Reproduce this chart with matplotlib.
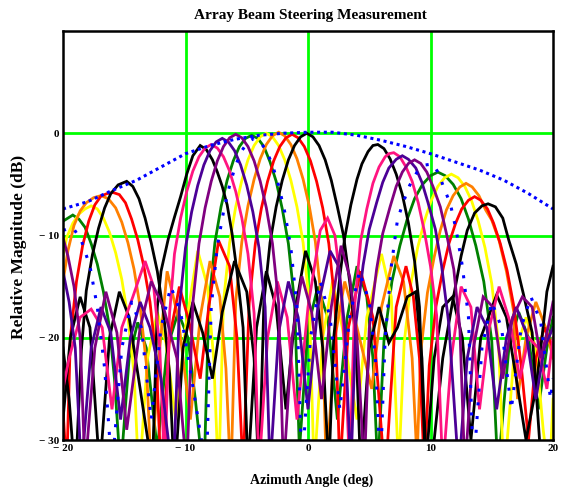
import matplotlib
matplotlib.use("Agg")
import matplotlib.pyplot as plt

# ---------------- data ----------------
X_TICKS = [-20, -10, 0, 10, 20]
X_TICK_LABELS = ["\u2212 20", "\u2212 10", "0", "10", "20"]
Y_TICKS = [-30, -20, -10, 0]
Y_TICK_LABELS = ["\u2212 30", "\u2212 20", "\u2212 10", "0"]
GRID_X = [-10, 0, 10]
GRID_Y = [-20, -10, 0]

ANG_GREEN = [-20, -19.2, -18.7, -18.2, -17.7, -17.2, -16.7, -16.2, -15.8, -15.3,
             -14.6, -13.9, -13.2, -12.3, -11.5, -10.6, -9.8, -9.2, -8.5,
             -8.1, -7.6, -7.1, -6.6, -6.1, -5.6, -5.1, -4.6, -4.1, -3.6, -3.1, -2.6, -2.1, -1.6, -1.1, -0.7,
             0.0, 0.8, 1.6, 2.4, 3.2, 4.0, 4.8, 5.3, 5.7,
             6.2, 6.85, 7.5, 8.1, 8.7, 9.35, 10.0, 10.6, 11.2, 11.85, 12.5, 13.1, 13.7, 14.35, 15.0, 15.5,
             16.4, 17.2, 18.0, 18.8, 19.5, 20.0]
DB_GREEN = [-8.6, -8.0, -8.4, -9.2, -10.8, -12.8, -15.5, -19, -24, -33,
            -22, -18.5, -21, -31, -21, -17.5, -20, -26, -34,
            -17, -10.7, -7.2, -4.6, -2.7, -1.3, -0.5, -0.2, -0.5, -1.3, -2.8, -4.7, -7.4, -10.8, -16.5, -31,
            -19, -15, -18, -28, -18, -13, -16, -22, -33,
            -20.3, -14.5, -11.0, -8.4, -6.4, -5.0, -4.15, -3.8, -4.15, -5.0, -6.4, -8.4, -11.0, -14.5, -20.3, -33,
            -21, -17.5, -20, -27, -21, -18]

ANG_YELLOW = [-20, -19.7, -19.2, -18.7, -18.2, -17.7, -17.2, -16.7, -16.2, -15.7,
              -15.2, -14.7, -14.2, -13.8, -13.1, -12.3, -11.6, -10.8, -10.0, -9.0,
              -8.2, -7.7, -7.3, -6.9, -6.4, -5.9, -5.4, -4.9, -4.4, -3.9,
              -3.4, -2.9, -2.4, -1.9, -1.4, -0.9, -0.4, 0.1, 0.5, 1.2,
              2.0, 2.8, 4.0, 4.8, 6.0, 6.8, 7.4, 7.85, 8.4, 8.95,
              9.5, 10.05, 10.6, 11.15, 11.7, 12.25, 12.8, 13.35, 13.9, 14.45,
              15.0, 15.55, 16.0, 16.8, 17.8, 18.6, 19.2, 19.7, 20.0]
DB_YELLOW = [-12.0, -10.2, -8.8, -7.9, -7.4, -7.1, -7.4, -8.3, -9.7, -11.7,
             -14.3, -18, -23.5, -34, -22, -17.5, -20.5, -28, -19, -11.5,
             -15, -22, -34, -16.5, -10.7, -7.2, -4.6, -2.6, -1.2, -0.35,
             0.0, -0.35, -1.2, -2.6, -4.6, -7.2, -10.7, -16.5, -33, -20,
             -14.5, -19, -28, -18, -11.8, -16, -33, -20.5, -14.7, -11.2,
             -8.6, -6.6, -5.2, -4.35, -4.0, -4.35, -5.2, -6.6, -8.6, -11.2,
             -14.7, -20.5, -34, -22, -18, -21, -29, -34, -26]

ANG_ORANGE = [-20, -19.6, -19.1, -18.6, -18.1, -17.5, -16.9, -16.3, -15.7, -15.2,
              -14.7, -14.2, -13.7, -13.2, -12.8, -12.1, -11.5, -10.6, -9.6, -8.8,
              -8.0, -7.2, -6.7, -6.3, -5.9, -5.4, -4.9, -4.4, -3.9, -3.4,
              -2.9, -2.4, -1.9, -1.4, -0.9, -0.4, 0.1, 0.6, 1.1, 1.5,
              2.2, 3.0, 3.8, 5.2, 6.0, 7.0, 7.8, 8.5, 8.9, 9.2,
              9.75, 10.3, 10.8, 11.3, 11.85, 12.4, 12.9, 13.4, 13.95, 14.5,
              15.0, 15.6, 16.2, 16.8, 17.1, 17.8, 18.6, 19.4, 20.0]
DB_ORANGE = [-14.5, -11.5, -9.0, -7.6, -6.8, -6.3, -6.1, -6.4, -7.3, -8.7,
             -10.7, -13.3, -17, -22.5, -33, -21, -13.5, -18, -28, -18,
             -12.5, -16, -23, -34, -16.4, -10.6, -7.1, -4.5, -2.5, -1.1,
             -0.25, 0.1, -0.25, -1.1, -2.5, -4.5, -7.1, -10.6, -16.4, -33,
             -20, -14.5, -18, -25, -17, -12, -14.5, -22, -32, -21.4,
             -15.6, -12.1, -9.5, -7.5, -6.1, -5.25, -4.9, -5.25, -6.1, -7.5,
             -8.5, -10.5, -13.5, -17.5, -26, -20, -16.5, -19, -22]

ANG_RED = [-20, -19.7, -19.4, -18.9, -18.4, -17.9, -17.4, -16.9, -16.4, -15.9,
           -15.4, -14.9, -14.4, -13.9, -13.4, -12.9, -12.4, -12.0, -11.3, -10.5,
           -9.7, -8.8, -8.1, -7.3, -6.4, -5.8, -5.3, -4.8, -4.3, -3.8,
           -3.3, -2.8, -2.3, -1.8, -1.3, -0.8, -0.3, 0.2, 0.7, 1.2,
           1.7, 2.2, 2.6, 3.3, 4.3, 5.3, 6.3, 7.2, 8.0, 8.6,
           9.1, 9.5, 9.9, 10.45, 11.0, 11.5, 12.05, 12.55, 13.1, 13.6,
           14.1, 14.65, 15.15, 15.7, 16.25, 16.8, 17.4, 18.0, 18.6, 19.3,
           20.0]
DB_RED = [-27, -33, -20, -14.5, -11, -8.6, -7.0, -6.15, -5.9, -5.8,
          -6.0, -6.8, -8.4, -10.4, -13, -16.5, -22, -33, -20, -15,
          -18.5, -24, -17, -10.5, -13, -20, -33, -16.6, -10.8, -7.3,
          -4.7, -2.7, -1.3, -0.45, -0.1, -0.45, -1.3, -2.7, -4.7, -7.3,
          -10.8, -16.6, -33, -19, -13.5, -18, -34, -17, -13, -16,
          -22, -33, -22.7, -16.9, -13.4, -10.8, -8.8, -7.4, -6.55, -6.2,
          -6.55, -7.4, -8.8, -10.8, -13.4, -16.9, -22.7, -30, -22, -19,
          -21]

ANG_BLACK_A = [-20, -19.5, -19.0, -18.5, -18.1, -17.6, -17.1, -16.6, -16.1, -15.5,
               -14.8, -14.3, -13.8, -13.3, -12.8, -12.3, -11.8, -11.3, -10.9, -10.2,
               -9.4, -8.6, -7.8, -7.0, -6.0, -5.0, -4.4, -4.0, -3.6, -3.1,
               -2.6, -2.1, -1.6, -1.1, -0.6, -0.1, 0.4, 0.9, 1.4, 1.9,
               2.4, 2.9, 3.4, 3.9, 4.3, 5.0, 5.8, 6.6, 7.3, 8.1,
               8.8, 9.3, 9.7, 10.3, 11.0, 11.8, 12.5, 13.0, 13.6, 14.2,
               14.7, 15.3, 15.9, 16.4, 17.0, 17.6, 18.3, 18.9, 19.3]
DB_BLACK_A = [-21, -26, -34, -21.2, -15.4, -11.9, -9.3, -7.3, -5.9, -5.05,
              -4.7, -5.2, -6.4, -8.3, -10.7, -13.5, -17.5, -23.5, -34, -21,
              -16.5, -19.5, -24, -17.5, -12.5, -15.5, -22, -34, -16.5, -10.7,
              -7.2, -4.6, -2.6, -1.2, -0.35, 0.0, -0.35, -1.2, -2.6, -4.6,
              -7.2, -10.0, -14.5, -20, -33, -21, -17, -20.5, -19, -16,
              -15.5, -22, -34, -30, -22, -16.5, -12, -9.5, -7.8, -7.1,
              -6.9, -7.2, -8.3, -10.5, -12.8, -15.8, -19.5, -30, -33]

ANG_BLACK_B = [-20, -19.4, -18.6, -17.8, -17.0, -16.2, -15.4, -14.6, -13.7, -12.7,
               -12.3, -12.0, -11.4, -10.9, -10.4, -9.9, -9.4, -8.8, -8.3, -7.8,
               -7.4, -7.0, -6.6, -6.2, -5.8, -5.3, -4.9, -4.2, -3.4, -2.6,
               -1.8, -1.0, -0.2, 0.6, 1.2, 1.7, 2.1, 2.6, 3.0, 3.5,
               4.0, 4.4, 4.9, 5.3, 5.7, 6.2, 6.7, 7.2, 7.7, 8.2,
               8.7, 9.1, 9.6, 10.3, 11.0, 11.8, 12.6, 13.3, 14.1, 15.4,
               16.2, 17.0, 17.8, 18.6, 19.1, 19.5, 20.0]
DB_BLACK_B = [-28, -20, -16, -19, -33, -20, -15.5, -18, -25, -33,
              -17, -13.5, -10.3, -8.2, -6.2, -4.0, -2.2, -1.2, -1.6, -2.6,
              -3.8, -5.2, -7.0, -9.8, -13.5, -19, -33, -19, -13.5, -17,
              -27, -17, -11.5, -14.5, -21, -33, -20, -14, -10.2, -7.0,
              -4.5, -3.0, -1.8, -1.2, -1.1, -1.5, -2.5, -4.0, -6.0, -8.8,
              -12.5, -17, -33, -22, -17, -16, -20, -30, -20, -15.8,
              -18, -24, -30, -25, -20, -15.5, -13]

ANG_PINK = [-20, -19.5, -18.6, -17.7, -16.8, -16.0, -15.2, -14.3, -13.3, -12.6,
            -12.1, -11.7, -11.3, -10.9, -10.4, -9.9, -9.4, -8.9, -8.4, -7.9,
            -7.4, -6.9, -6.4, -5.9, -5.4, -4.9, -4.4, -4.0, -3.3, -2.5,
            -1.7, -0.9, 0.0, 0.4, 1.0, 1.6, 2.2, 2.7, 3.1, 3.4,
            3.8, 4.3, 4.8, 5.3, 5.8, 6.3, 6.6, 7.0, 7.5, 8.0,
            8.5, 9.0, 9.5, 10.0, 10.5, 11.0, 11.7, 12.5, 13.3, 14.0,
            14.8, 15.6, 16.5, 17.3, 18.0, 18.8, 19.5, 20.0]
DB_PINK = [-25, -22, -18, -17.2, -19, -27, -19, -16, -12.5, -15,
           -21, -33, -17.6, -11.8, -8.3, -5.7, -3.7, -2.3, -1.45, -1.1,
           -1.45, -2.3, -3.7, -5.7, -8.3, -11.8, -17.6, -33, -20, -14.5,
           -18, -28, -17, -14, -9.5, -8.3, -10, -15, -24, -33,
           -17, -10.5, -7.4, -4.9, -3.3, -2.3, -2.0, -1.9, -2.3, -3.3,
           -4.7, -6.8, -9.6, -13, -17.8, -33, -22, -15, -17, -27,
           -19, -15, -18.5, -24, -20, -21, -25, -20]

ANG_INDIGO = [-20, -19.5, -19.0, -18.5, -17.7, -16.9, -16.1, -15.3, -14.5, -13.7,
              -12.9, -12.0, -11.0, -10.5, -10.0, -9.5, -9.0, -8.5, -8.0, -7.5,
              -7.0, -6.5, -6.0, -5.5, -5.0, -4.5, -4.0, -3.5, -3.1, -2.4,
              -1.6, -0.8, 0.0, 0.8, 1.8, 2.5, 3.0, 3.5, 3.9, 4.5,
              5.0, 5.6, 6.1, 6.6, 7.2, 7.7, 8.2, 8.8, 9.3, 9.8,
              10.4, 10.9, 11.5, 12.3, 13.0, 13.8, 14.6, 15.4, 16.2, 17.0,
              17.8, 18.6, 19.3, 20.0]
DB_INDIGO = [-13.5, -16.5, -21, -33, -21, -17, -19.5, -28, -20, -16.5,
             -19, -24, -34, -17, -11.2, -7.7, -5.1, -3.1, -1.7, -0.85,
             -0.5, -0.85, -1.7, -3.1, -5.1, -7.7, -11.2, -17, -33, -19.5,
             -14.5, -18, -27, -17, -11.5, -13, -19, -33, -18.7, -12.9,
             -9.4, -6.8, -4.8, -3.4, -2.55, -2.2, -2.55, -3.4, -4.8, -6.8,
             -9.4, -12.9, -18.7, -33, -22, -17, -19, -27, -20, -17,
             -19.5, -26, -21, -19]

ANG_PURPLE = [-20, -19.6, -19.1, -18.6, -18.2, -17.4, -16.5, -15.6, -14.8, -13.7,
              -12.8, -11.8, -10.7, -9.9, -9.4, -8.9, -8.4, -7.9, -7.4, -6.9,
              -6.4, -5.9, -5.4, -4.9, -4.4, -3.9, -3.4, -2.9, -2.4, -2.0,
              -1.3, -0.5, 0.3, 1.1, 1.9, 2.7, 3.4, 4.0, 4.6, 5.0,
              5.6, 6.1, 6.7, 7.2, 7.7, 8.2, 8.7, 9.2, 9.7, 10.2,
              10.8, 11.3, 11.9, 12.4, 12.8, 13.5, 14.3, 15.1, 15.9, 16.7,
              17.5, 18.3, 19.0, 19.6, 20.0]
DB_PURPLE = [-10.2, -12, -15, -20, -33, -21, -15.5, -19.5, -29, -19,
             -14.5, -17, -22, -33, -16.6, -10.8, -7.3, -4.7, -2.7, -1.3,
             -0.45, -0.1, -0.45, -1.3, -2.7, -4.7, -7.3, -10.8, -16.6, -33,
             -20, -14, -17.5, -26, -17, -11, -14, -20, -33, -19.1,
             -13.3, -9.8, -7.2, -5.2, -3.8, -2.95, -2.6, -2.95, -3.8, -5.2,
             -7.2, -9.8, -13.3, -19.1, -33, -21, -16, -17, -24, -18,
             -16, -17, -22, -19, -16.5]

ANG_BLUE = [-20, -19.2, -18.5, -17.8, -17.2, -16.6, -16.0, -15.2, -14.4, -13.6,
            -12.8, -12.0, -11.2, -10.4, -9.5, -8.7, -8.3, -7.9, -7.4, -6.9,
            -6.4, -5.9, -5.4, -4.9, -4.4, -3.9, -3.4, -2.9, -2.4, -1.9,
            -1.4, -0.9, -0.5, 0.2, 1.0, 1.8, 2.6, 3.4, 4.2, 5.0,
            5.5, 5.9, 6.3, 6.8, 7.3, 7.7, 8.3, 8.9, 9.6, 10.2,
            10.7, 11.1, 11.6, 12.1, 12.6, 13.1, 13.5, 14.2, 15.0, 15.8,
            16.6, 17.4, 18.2, 19.0, 19.8, 20.0]
DB_BLUE = [-9.5, -9.2, -10.5, -13, -17, -23, -33, -21, -16.5, -19,
           -28, -19, -15, -17.5, -24, -30, -33, -17, -11, -7.7,
           -5.1, -3.1, -1.7, -0.85, -0.5, -0.85, -1.7, -3.1, -5.1, -7.7,
           -11.2, -17, -33, -20, -14.5, -18, -27, -18, -13.5, -16.5,
           -22, -33, -20, -13, -8.5, -7.0, -5.1, -3.8, -3.1, -3.0,
           -4.0, -5.4, -6.8, -9.5, -13, -18, -33, -21, -16.5, -19,
           -27, -19, -16, -18.5, -26, -24]

ANG_ENVELOPE = [-20, -18, -16, -14, -12, -10, -8, -6, -4, -2, 0,
                2, 4, 6, 8, 10, 12, 14, 16, 18, 20]
DB_ENVELOPE = [-7.4, -6.7, -5.6, -4.6, -3.3, -2.0, -1.2, -0.6, -0.2, 0.0, 0.1,
               0.1, -0.2, -0.7, -1.3, -2.0, -2.8, -3.6, -4.6, -5.9, -7.4]

SERIES = [
    (ANG_GREEN, DB_GREEN, "#008000"),
    (ANG_YELLOW, DB_YELLOW, "#FFFF00"),
    (ANG_ORANGE, DB_ORANGE, "#FF8000"),
    (ANG_RED, DB_RED, "#FF0000"),
    (ANG_BLACK_A, DB_BLACK_A, "#000000"),
    (ANG_BLACK_B, DB_BLACK_B, "#000000"),
    (ANG_PINK, DB_PINK, "#FF1480"),
    (ANG_INDIGO, DB_INDIGO, "#4B0096"),
    (ANG_PURPLE, DB_PURPLE, "#800080"),
]

# ---------------- figure ----------------
W, H = 562, 491
fig = plt.figure(figsize=(W / 100, H / 100), dpi=100)
fig.patch.set_facecolor("white")
ax = fig.add_axes([63 / W, 1 - 440 / H, 490 / W, 409 / H])
ax.set_xlim(-20, 20)
ax.set_ylim(-30, 10)

for v in GRID_X:
    ax.axvline(v, color="#00FF00", lw=2.0, zorder=1)
for v in GRID_Y:
    ax.axhline(v, color="#00FF00", lw=2.0, zorder=1)

for ang, db, col in SERIES:
    ax.plot(ang, db, color=col, lw=2.0, zorder=2, solid_joinstyle="miter")

ax.plot(ANG_BLUE, DB_BLUE, color="#0000FF", lw=2.2, ls=(0, (1, 3.5)), zorder=3)
ax.plot(ANG_ENVELOPE, DB_ENVELOPE, color="#0000FF", lw=2.2, ls=(0, (1, 1.2)), zorder=3)

serif = ["Liberation Serif", "DejaVu Serif"]
ax.set_xticks(X_TICKS)
ax.set_xticklabels(X_TICK_LABELS, family=serif, fontweight="bold", fontsize=8)
ax.set_yticks(Y_TICKS)
ax.set_yticklabels(Y_TICK_LABELS, family=serif, fontweight="bold", fontsize=8)
ax.tick_params(length=0, pad=3)

for s in ax.spines.values():
    s.set_linewidth(1.8)
    s.set_color("black")
    s.set_zorder(5)

fig.text(310 / W, 1 - 15 / H, "Array Beam Steering Measurement", ha="center", va="center",
         family=serif, fontweight="bold", fontsize=11)
fig.text(312 / W, 1 - 480 / H, "Azimuth Angle (deg)", ha="center", va="center",
         family=serif, fontweight="bold", fontsize=10)
fig.text(19 / W, 1 - 247 / H, "Relative Magnitude (dB)", ha="center", va="center",
         rotation=90, family=serif, fontweight="bold", fontsize=12.5)

fig.savefig("out.png", dpi=100)
